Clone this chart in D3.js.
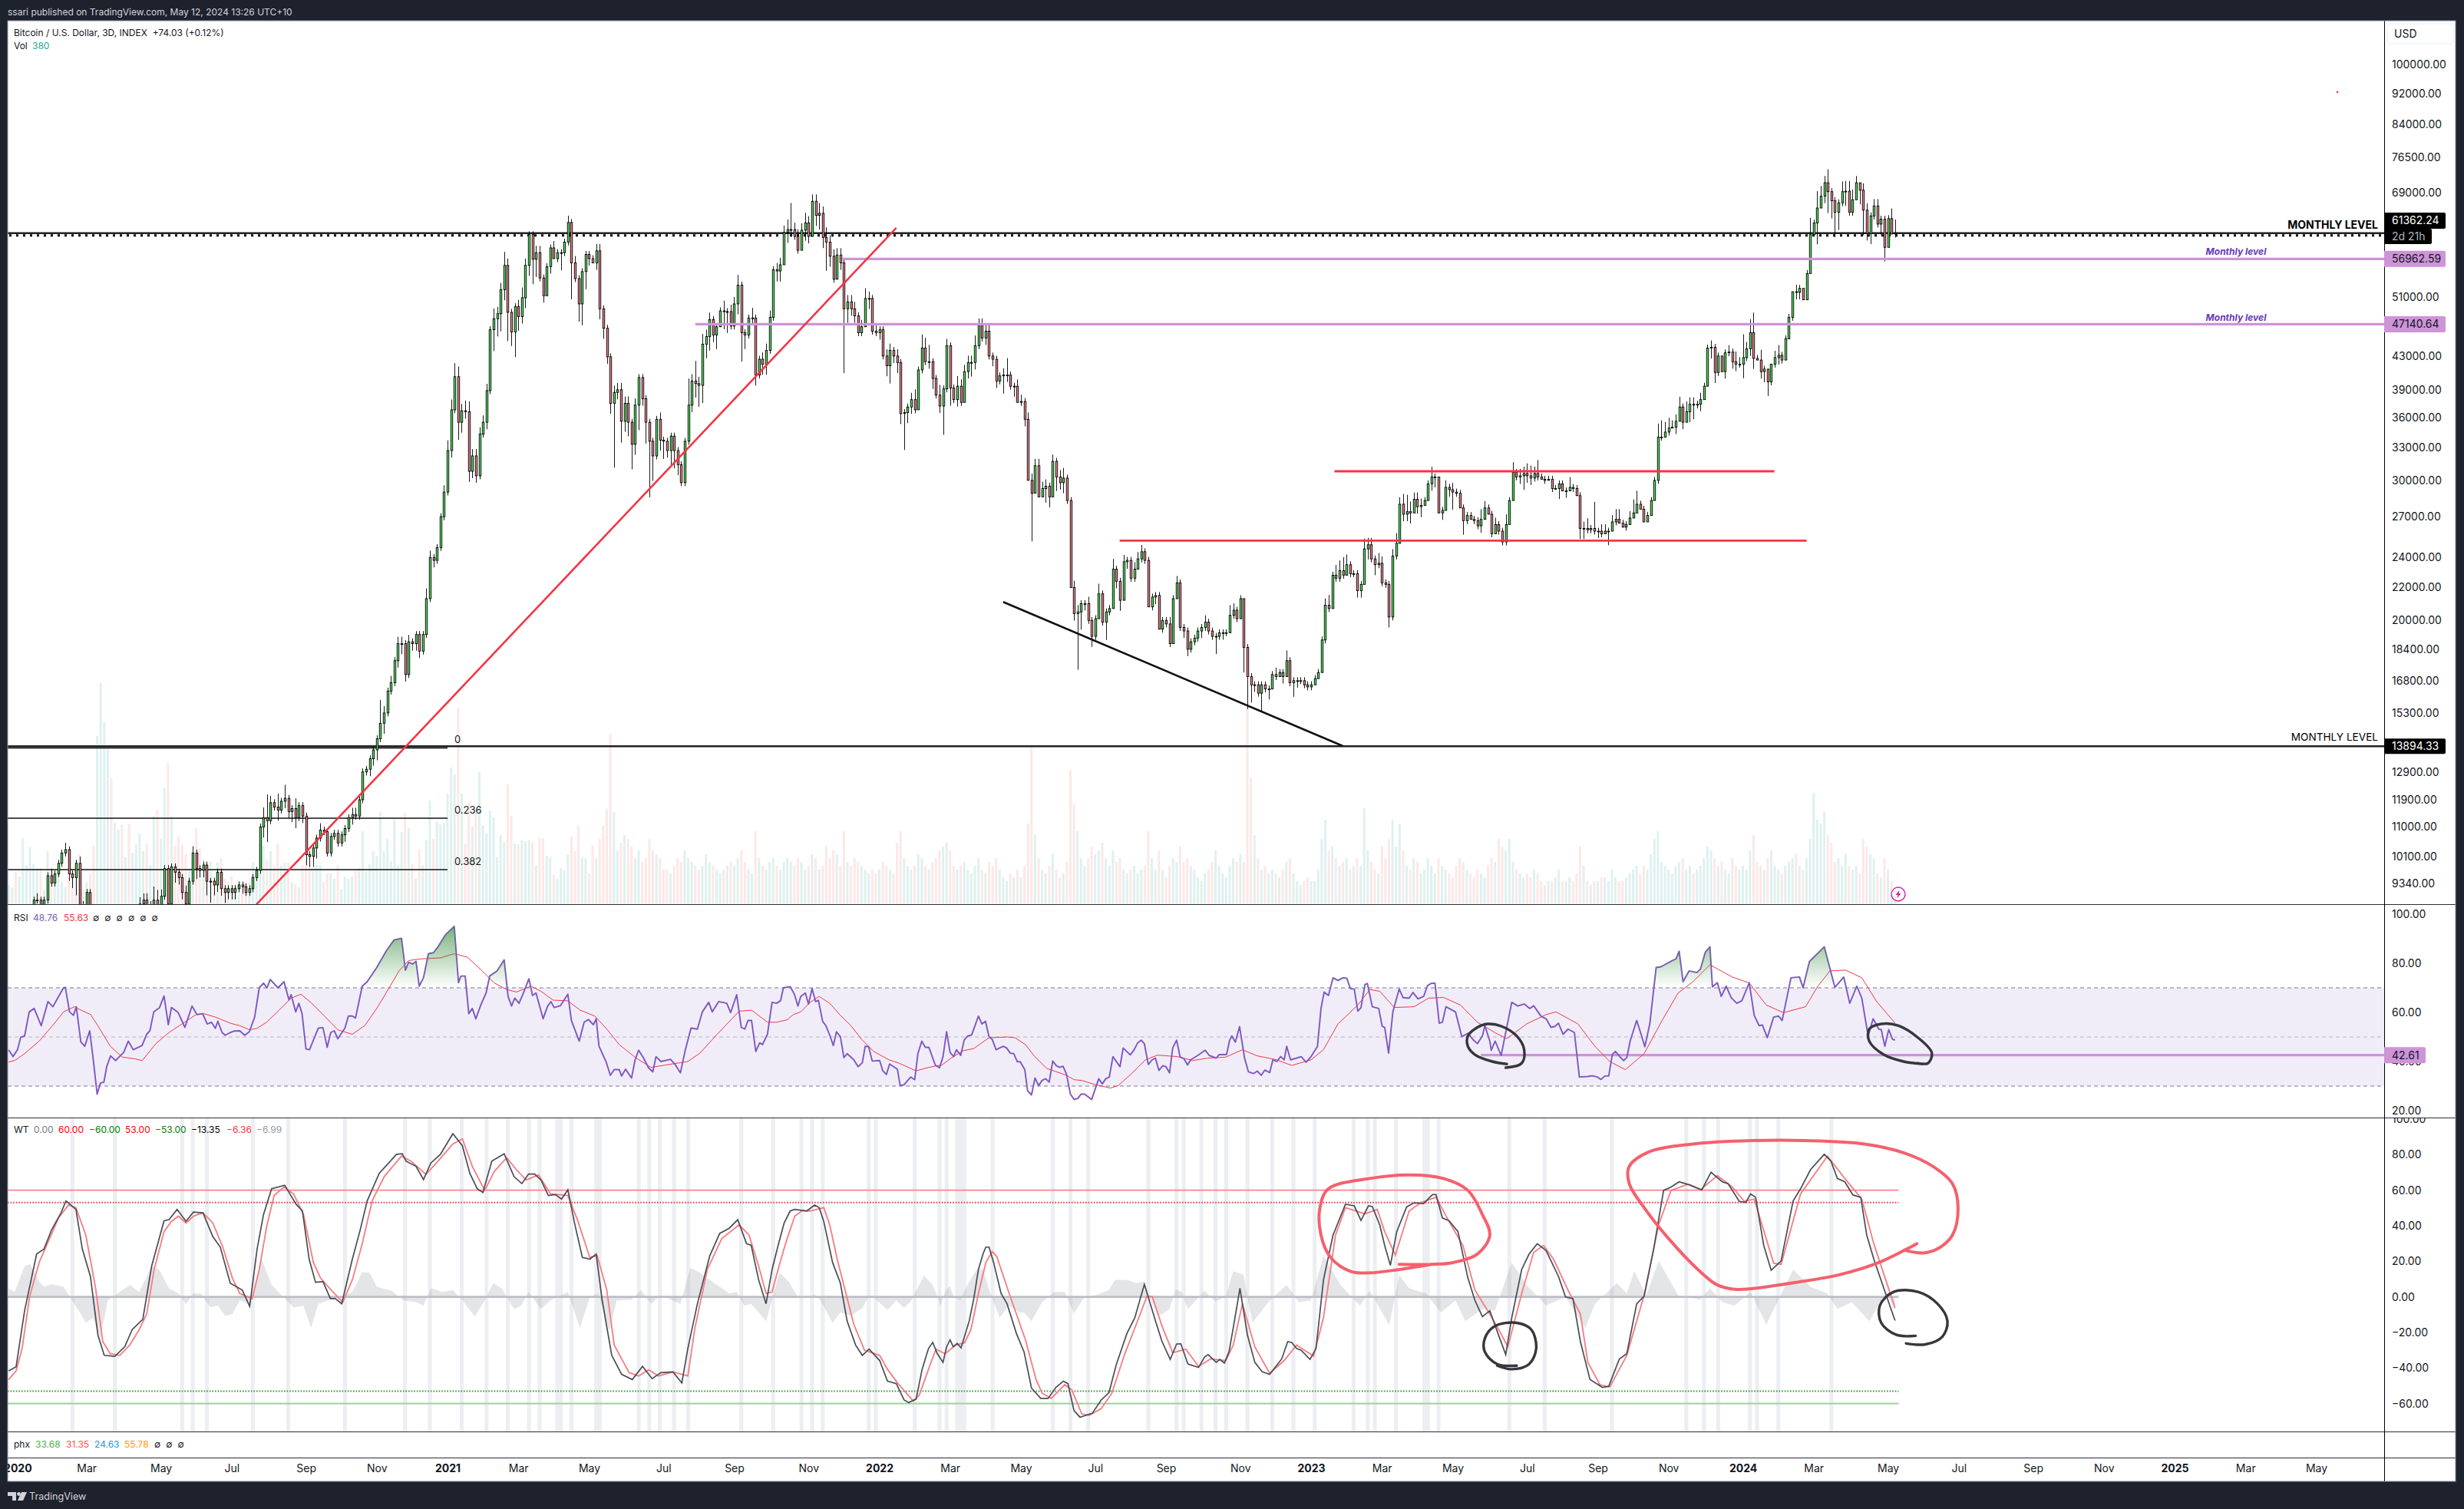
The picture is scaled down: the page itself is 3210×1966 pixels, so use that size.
<!DOCTYPE html>
<html><head><meta charset="utf-8">
<style>
html,body{margin:0;padding:0;background:#1e222d;}
svg{display:block;font-family:Inter,Roboto,sans-serif;}
text{white-space:pre;}
</style>
<script src="https://cdn.jsdelivr.net/npm/d3@7/dist/d3.min.js"></script>
</head><body><svg id="c" width="3210" height="1966"></svg>
<script>
// ---------- price data: closes in thousands of USD, one per 3-day bar ----------
const closes=[
7.2,7.3,7.2,7.4,8.0,8.1,8.7,8.9,8.9,8.6,
8.9,9.55,9.35,9.6,9.9,10.2,10.3,9.6,9.5,9.9,
8.7,8.5,9.1,7.9,5.0,5.3,6.2,6.5,6.7,6.4,
6.8,7.2,6.9,7.2,7.0,7.5,7.6,8.8,8.9,8.6,
8.7,8.9,8.6,9.0,9.75,8.8,9.8,9.65,9.5,9.1,
8.8,9.4,10.2,9.75,9.7,9.85,9.4,9.4,9.3,9.65,
9.2,9.1,9.2,9.1,9.2,9.3,9.25,9.1,9.2,9.5,
9.7,11.0,11.3,11.2,11.8,11.65,11.55,11.85,11.95,11.5,
11.6,11.3,11.7,11.35,10.15,10.1,10.35,10.65,10.9,10.85,
10.2,10.7,10.8,10.5,10.75,10.95,11.3,11.4,11.35,11.9,
12.9,13.0,13.4,13.75,14.2,14.85,15.3,16.3,16.7,17.8,
18.7,18.7,17.1,18.8,18.7,19.2,18.3,19.2,21.3,24.0,
23.8,24.7,27.0,29.0,32.7,36.8,40.5,35.5,36.7,36.6,
30.8,32.2,30.4,34.3,35.5,38.9,46.4,47.9,48.6,52.1,
55.9,48.8,46.1,49.6,48.2,50.9,55.9,61.1,56.9,58.0,
53.9,51.2,55.7,58.8,57.0,58.0,58.0,59.8,63.3,56.3,
53.8,50.0,54.9,57.7,57.0,56.3,58.3,49.3,46.6,42.9,
37.5,38.7,39.0,35.6,37.5,35.5,33.3,37.3,40.4,38.0,
35.5,33.6,32.2,35.8,33.7,33.6,32.7,34.1,32.7,31.4,
29.8,33.6,37.3,40.0,39.7,39.5,44.5,45.5,47.8,45.7,
46.8,49.0,48.9,48.9,46.9,50.0,52.8,46.0,45.7,48.0,
48.0,40.7,42.6,42.0,43.7,48.1,55.2,55.0,56.0,61.5,
62.0,62.0,60.8,58.4,61.9,63.2,60.8,67.3,64.6,65.0,
60.6,59.8,57.4,53.7,57.6,56.3,49.3,50.3,49.3,48.3,
46.0,46.8,50.8,50.8,46.2,46.0,46.4,43.0,41.8,43.7,
43.0,42.2,36.4,36.5,37.1,37.9,36.8,41.3,44.0,42.3,
42.3,40.3,38.4,37.2,39.1,44.3,39.2,37.9,39.4,37.6,
41.1,42.2,42.2,44.3,47.0,45.3,46.2,43.0,42.6,40.0,
40.6,40.7,40.7,39.4,39.4,37.6,37.7,35.8,30.0,28.9,
31.3,28.6,29.3,29.5,28.6,31.7,30.3,29.8,30.2,28.3,
22.0,20.4,20.5,21.0,21.0,20.0,19.1,20.1,21.6,19.9,
20.5,20.7,23.2,22.4,21.2,23.7,23.8,22.6,23.2,23.9,
24.4,23.8,20.8,21.4,21.5,19.5,20.0,19.8,18.7,21.3,
22.3,19.6,19.4,18.4,18.8,19.0,19.4,19.6,19.9,19.4,
19.1,19.1,19.3,19.3,19.3,20.3,20.6,20.1,21.3,18.5,
17.0,16.6,16.6,16.2,16.6,16.4,16.4,17.1,17.0,17.2,
17.0,17.8,16.7,16.8,16.8,16.8,16.6,16.5,16.6,16.9,
17.2,18.9,20.9,20.7,22.8,22.6,23.1,22.8,23.5,22.9,
22.9,21.8,22.2,24.6,24.9,23.9,23.5,23.6,22.3,22.2,
20.2,24.1,25.0,28.0,27.2,27.4,27.3,28.4,27.8,27.9,
28.3,29.7,30.3,30.3,27.3,27.5,29.4,29.2,29.0,28.9,
27.7,26.7,27.1,26.8,26.7,26.3,26.8,27.7,27.2,25.7,
26.4,25.9,25.1,26.4,28.3,30.7,30.3,30.4,30.6,30.4,
30.2,30.6,30.3,30.1,30.0,30.1,29.3,29.3,29.7,29.1,
29.1,29.4,29.3,28.7,26.1,26.1,26.0,26.1,25.9,25.9,
25.7,25.9,25.9,26.6,26.8,26.5,26.2,26.4,26.9,27.3,
28.0,27.6,26.6,27.1,28.3,30.0,34.0,34.0,34.5,34.9,
35.0,35.6,37.1,35.5,36.6,37.4,37.3,37.4,37.9,39.4,
44.0,44.1,41.0,43.0,41.1,43.4,43.5,42.3,42.0,42.0,
42.8,43.9,46.0,42.7,42.5,41.1,41.4,39.9,42.0,42.8,
43.1,42.5,45.2,48.1,51.8,51.7,52.3,50.6,54.6,61.1,
63.2,66.0,68.3,71.0,69.2,67.4,65.2,67.0,69.2,69.3,
65.2,67.6,71.0,69.5,65.6,61.3,64.5,66.4,63.0,63.9,
58.9,64.0,61.2,61.36];
// upper / lower wick length of each bar, percent of price beyond the body
const wickUp=[
1,1,1,1,1,1,1,1,2,1, 1,1,2,1,1,1,2,1,1,1, 2,2,1,1,4,3,3,2,2,2, 1,2,2,2,1,1,2,2,2,2,
2,4,3,2,1,1,1,1,1,1, 2,1,2,1,1,1,1,1,1,1, 1,1,1,1,1,1,1,1,1,1, 1,1,3,7,2,1,4,1,4,1,
1,3,1,1,1,1,1,1,2,1, 1,1,1,1,1,1,1,2,2,1, 1,1,1,1,1,7,2,1,2,1, 2,2,1,2,1,1,1,1,3,2,
1,1,1,2,3,3,4,3,2,3, 3,2,2,2,2,2,1,3,2,2, 4,2,1,1,2,3,2,1,1,2, 2,1,1,1,2,1,1,1,2,1,
2,1,1,1,1,1,2,2,1,1, 1,2,2,2,2,2,1,2,1,1, 1,1,1,1,2,1,1,1,1,1, 1,1,8,2,6,2,3,2,2,1,
1,1,3,1,2,2,3,1,1,1, 3,1,1,2,2,2,1,2,2,2, 3,8,2,2,2,3,2,2,2,3, 2,3,2,2,2,2,1,2,2,2,
1,2,3,2,1,2,1,1,2,2, 1,2,1,1,1,2,3,1,4,3, 5,1,1,3,1,2,1,1,3,2, 2,2,2,3,2,2,2,2,1,1,
1,2,5,1,1,2,2,1,2,2, 2,2,2,2,1,2,1,2,3,1, 1,2,2,1,1,2,1,1,3,1, 1,1,3,1,1,2,1,1,2,2,
2,1,1,1,1,1,1,1,2,1, 2,1,1,1,1,1,1,1,2,1, 1,1,1,1,1,3,2,1,1,0, 1,1,1,1,1,1,1,1,2,1,
1,3,1,1,1,1,1,1,1,1, 1,1,2,3,1,3,3,4,3,1, 1,1,1,3,2,2,1,3,2,1, 1,2,3,2,3,5,3,2,2,2,
1,1,3,1,0,1,2,1,2,1, 1,1,1,1,1,1,3,2,1,1, 2,1,1,3,1,3,1,2,2,3, 3,2,4,1,1,1,1,1,1,1,
1,3,1,1,1,2,3,1,8,1, 2,2,1,2,3,3,1,1,2,4, 4,1,1,1,1,1,4,5,3,3, 2,2,3,1,3,2,2,1,2,1,
1,2,1,1,0,1,2,1,3,2, 7,2,4,6,1,3,1,0,0,2, 3,1,1,1,0,2,1,0,1,5, 1,5,3,2,4,1,1,1,3,3,
3,3,2,0,2,2,1,2,2,1, 1,1,3,4];
const wickDown=[
1,1,1,1,1,1,1,1,1,1, 1,1,1,1,1,1,1,2,3,5, 1,3,2,2,5,4,3,3,2,3, 2,2,2,2,2,2,2,2,2,2,
3,2,3,2,1,1,1,3,2,2, 3,2,1,3,2,2,4,6,3,2, 2,3,2,2,2,1,2,1,1,1, 1,1,3,6,1,1,3,1,2,2,
3,3,1,2,3,3,3,3,1,1, 1,1,1,1,1,2,1,2,1,1, 1,1,2,2,3,1,3,1,1,1, 2,3,2,1,2,2,2,1,1,1,
2,1,1,1,1,2,1,5,3,2, 3,2,2,1,1,2,1,6,5,5, 3,8,4,7,4,2,3,3,7,5, 1,2,0,2,0,1,5,1,1,10,
1,5,6,5,2,0,2,3,3,2, 3,17,2,6,3,4,7,3,7,2, 6,15,7,1,3,5,2,4,5,3, 1,1,1,2,4,6,5,4,4,2,
4,0,5,6,1,1,3,8,4,1, 2,3,1,3,3,1,1,3,3,0, 3,2,1,1,0,3,2,0,3,4, 3,8,3,1,0,2,17,4,2,2,
1,1,0,3,1,1,2,1,3,5, 2,3,3,10,3,2,1,0,1,1, 2,3,1,2,8,1,5,1,2,1, 0,2,4,2,1,1,2,1,2,2,
1,5,2,1,3,0,1,2,0,13, 0,0,0,4,3,0,4,2,3,1, 0,2,15,5,2,1,3,1,0,1, 5,1,0,2,3,0,2,1,1,0,
1,1,0,1,2,0,1,1,1,0, 0,1,2,2,1,1,1,2,1,1, 1,5,1,2,1,0,1,1,0,7, 9,5,2,1,5,1,3,0,1,0,
2,0,1,4,2,1,1,1,1,0, 0,0,1,1,0,1,1,1,0,1, 1,2,2,0,3,1,3,1,1,1, 3,1,1,0,2,2,3,0,2,3,
0,0,2,3,0,2,0,2,5,1, 0,4,1,0,1,1,2,0,0,1, 0,1,1,1,0,0,1,2,4,2, 2,1,1,0,1,0,1,0,3,0,
2,0,1,0,3,3,1,1,1,2, 1,0,4,0,1,0,0,1,0,0, 0,0,0,0,0,0,1,1,0,1, 0,2,0,2,0,3,4,1,2,0,
0,3,3,1,0,2,1,2,2,1, 4,1,2,3,0,2,3,4,1,1, 2,1,0,0,1,2,2,0,0,0, 0,6,0,2,6,5,7,5,1,4,
1,1,0,4,7,2,3,1,1,3, 4,0,0,1];
// volume, in the chart's own arbitrary scale
const volumes=[
25,22,42,36,86,51,74,52,47,47, 19,69,47,26,33,29,22,36,42,58, 65,19,29,40,76,219,288,237,203,165,
106,97,103,61,104,67,78,92,69,79, 51,115,123,85,152,184,115,76,88,78, 65,47,58,99,72,58,47,56,36,54,
60,33,29,36,26,24,19,29,29,54, 44,79,76,58,69,51,79,51,54,54, 29,26,22,51,58,51,47,51,51,29,
40,40,33,51,20,36,33,36,44,47, 95,42,52,69,63,120,69,85,56,110, 51,94,119,99,52,33,72,51,83,135,
85,108,104,106,144,178,169,256,144,79, 133,101,122,172,103,92,122,113,61,90, 81,156,115,79,78,83,82,83,81,51,
86,86,63,61,38,33,47,44,65,88, 69,103,61,60,40,76,60,85,103,124, 222,
120,70,80,90,85,75,60,70,55,60, 85,70,65,60,45,45,40,50,60,55, 70,60,55,50,45,50,65,55,50,45,
40,45,50,55,50,60,70,55,45,40, 95,60,50,45,55,60,50,45,55,60, 55,50,60,55,45,50,65,60,45,50,
75,60,70,65,50,95,55,50,60,55, 50,45,40,45,40,45,55,50,45,40, 80,95,60,50,45,50,65,60,50,45,
55,60,70,75,80,70,50,45,50,55, 45,40,50,60,45,40,55,50,60,45, 35,30,40,35,45,35,50,105,205,90,
60,45,40,50,65,45,35,40,55,175, 130,95,60,50,60,75,65,70,80,60, 50,70,55,60,45,40,45,50,40,45,
50,95,60,45,70,45,35,50,60,55, 75,55,60,50,45,35,30,40,45,55, 70,50,40,35,50,60,55,65,55,255,
165,90,60,45,50,40,45,40,35,45, 55,60,40,30,25,30,35,30,30,45, 85,110,70,75,60,50,55,60,45,50,
60,50,125,70,55,45,40,75,60,85, 110,75,105,70,50,45,60,55,40,45, 60,50,40,60,50,45,40,35,50,60,
55,45,40,35,45,40,35,50,60,55, 85,75,70,85,55,45,40,35,40,35, 45,40,30,25,30,30,35,45,30,30,
35,30,40,75,50,30,25,30,30,35, 35,30,45,35,30,30,35,40,45,50, 40,50,45,65,85,95,55,50,45,40,
50,55,60,45,50,40,45,50,60,75, 70,60,50,55,45,40,60,50,45,50, 45,70,90,55,50,45,60,70,50,45,
40,50,55,60,65,50,45,60,85,145, 110,105,120,90,80,55,60,50,65,50, 45,50,40,85,75,65,60,40,35,60,
45,30,8];
// ---------- RSI [bar, value] ----------
const rsi=[[0,44.8],[1.2,42],[2.5,44.8],[3.4,49.9],[4.5,50.4],[5.8,60.2],[7.2,61.6],[9.2,54.6],[11.1,64.4],[12.5,62.3],[14.1,66.5],[15.5,70],[16,70.2],[17.2,60.2],[18.3,58.8],[19.1,62.3],[20.4,47.9],[21.5,46.2],[22.9,52.5],[23.8,42],[25,26.7],[25.9,31.2],[26.9,31.6],[27.7,37.9],[28.8,42.3],[30.2,40.4],[31.3,42],[32.5,43.7],[33.8,48.3],[35.2,44.8],[37.7,46.5],[39,51.1],[39.9,52.5],[41,60.2],[42.6,61.9],[43.9,66.7],[45.1,55],[46,62],[47.9,59.9],[49.8,53.9],[51.8,62.6],[53.2,59.1],[54.8,59.5],[56.1,55.3],[57.3,56],[58.4,53.5],[59.1,56.4],[60.3,51.8],[61.2,50.7],[62.6,51.8],[63.7,52.4],[65.3,52.5],[66.7,50.7],[68,52.1],[69.5,58.1],[70.8,70],[72,71.9],[73,70],[73.9,73.4],[76.1,70],[77.8,72.5],[79.2,65.1],[79.8,67.2],[81.1,60.2],[82,63.7],[82.9,59.5],[84,45.1],[85,44.8],[87.5,53.6],[88.8,53.8],[90,45.8],[91,51.8],[92,52.5],[93,49.3],[95,53.6],[96,58.5],[97.1,58.5],[98,57.7],[99.9,70.7],[101.3,72.5],[104,78.3],[106.8,85.3],[108.9,89.5],[111,90.2],[112.1,77.2],[113,80.4],[114.1,79.7],[115.1,80.8],[116,70.7],[117.2,74.1],[118.6,83.9],[120,84.3],[121.3,86.7],[123.4,91.6],[125.9,95],[127.1,72.1],[127.8,74.8],[129,74.8],[130,59.5],[131,61.6],[132,57.4],[133.4,63],[134.9,67.9],[135.9,74.8],[138,76.9],[140,81.4],[141.1,66.5],[142.1,62.6],[143,65.8],[144.2,63.7],[145.3,67.4],[147,73.7],[148,66.9],[149,67.9],[151,57.4],[152.2,62.3],[153.2,64.4],[154.1,62],[155.9,62.7],[158,67.4],[159,56.7],[161.2,48.3],[162.6,56],[163.8,57.1],[165.2,55],[166,57.4],[166.8,46.2],[168.8,39.9],[170,34.4],[171.1,36.7],[172.5,36.7],[173.2,34.1],[174.3,36.9],[176,33.3],[177,40.7],[178,44.6],[179.4,41.4],[180.8,37.4],[182,35.8],[182.9,42],[184.3,40],[187,40.9],[188.4,38.6],[189.8,35.4],[191.2,44.8],[192.8,53.6],[194.6,53.2],[196,60.2],[197.8,64.1],[198.8,60.2],[200.6,64.4],[202.9,63.7],[204,59.9],[205.7,67.2],[207,53.9],[208,53.2],[208.9,56.7],[209.9,56.7],[211.1,44.1],[212.2,47.6],[213,46.9],[214.4,51.1],[215.7,64.1],[217,63.7],[218.1,64.8],[218.9,70],[220.8,70.5],[222,67.4],[223,62.6],[223.8,66.5],[225.1,67.9],[226,63.4],[227,69.7],[228,64.4],[228.8,64.9],[230,56.3],[230.9,54.6],[232,50.7],[233,46.5],[233.9,52.1],[235,50.1],[236,41.6],[236.9,43.2],[238.8,40.7],[240,37.9],[241.2,39.5],[242,46.2],[243,46],[244,40.2],[246.1,40.4],[247,36.2],[248,34.7],[248.9,39],[251.1,36.9],[251.9,30.2],[253,30.6],[254.9,33.7],[256,32.6],[256.9,43.2],[258,48.3],[259,45.8],[260,45.8],[261.8,38.6],[263,37.4],[264,42],[265,52.1],[266,43.7],[267,42],[267.8,44.8],[269,42.5],[270,48.8],[271,50.4],[272.1,50.8],[274,58.5],[275,55.3],[276,56.4],[277,50.1],[277.9,49],[279,44.8],[281,46.2],[282,45.5],[283,43.4],[284,43.2],[285,39.9],[285.8,39.9],[287.1,36.7],[287.9,28.1],[289,26.4],[290,33.3],[291,30.2],[292,32.3],[293,33],[294,31.6],[295,40.2],[296,38.3],[297,37.6],[297.9,38.1],[298.9,34.8],[300,26.7],[301,24.6],[302,24.9],[303,26.7],[304,26.7],[306,24.5],[307,28.8],[308,33],[309,30.9],[310,33],[311,33.7],[312,42],[314,37.9],[314.9,45.5],[316.9,42.7],[318,44.8],[319,47.6],[320,48.7],[320.9,47.2],[322,38.8],[323.1,40.7],[324,41.4],[325,36.4],[326.1,38.3],[327,37.9],[328,35.4],[328.9,45.5],[330,48.7],[331,41.8],[332.1,41.1],[333.1,38.6],[334,40.7],[336,42.5],[338.1,44.6],[339.2,42.5],[341.2,41.4],[342,42.8],[344.1,42.8],[345,48.7],[345.6,50.4],[346.6,47.9],[347.8,54.2],[349.2,41.4],[350.3,35.8],[351.7,35.1],[352.8,36.1],[353.9,34.4],[354.9,36.5],[356.3,35.5],[357.2,40.7],[358.3,40],[359.4,42],[360.4,40.7],[361.1,46.2],[362.2,40.7],[363.9,41.4],[365.2,42],[366.6,39.7],[368,42],[369.8,46.2],[370.8,61.6],[371.7,68.3],[372.9,66.9],[374.2,74.1],[375.6,73],[377,74.1],[378.1,73.9],[379.1,69.7],[380.2,69.5],[381.2,60.5],[382.1,61.9],[383.2,71.3],[383.9,71.8],[385.3,62.3],[387.1,61.6],[388.1,54.3],[388.8,53.9],[389.9,43.4],[391.1,60.2],[392.9,69.5],[394,66],[395.7,65.8],[396.8,68.1],[398.2,65.5],[399.8,66.5],[400.9,70.9],[401.9,71.8],[403,71.9],[404.2,55.6],[405.1,56],[406.1,62.3],[408.8,60.2],[410.6,50.1],[412.3,51.5],[413.7,49],[415,47.3],[416.4,50.4],[417.1,54.6],[418.5,48.3],[418.9,44.6],[420,48.3],[421.7,42.5],[424.7,64.1],[426.4,62.6],[428.2,63.4],[429.8,61.6],[430.9,62.7],[433,58.4],[434.4,57.4],[435.8,53.9],[436.9,54.3],[437.9,55.6],[439.2,51.1],[440.6,53.2],[442.4,51.8],[443.8,33.7],[446.2,33.9],[447.5,34.2],[448.9,33.7],[449.9,32.7],[451,34.1],[452.1,34.1],[453.1,42.8],[454,44.1],[455.2,42],[456.3,40.4],[457.2,41.6],[458.2,48.6],[460,56.7],[461.4,50.4],[462.3,46],[463.7,55.3],[465.5,78.3],[466.9,78.6],[469.7,80.8],[471.1,81.8],[472,84.9],[473.1,72.5],[474.8,76.9],[477,76.2],[478,77.6],[479.4,84.6],[480.7,86.7],[481.4,70.4],[482.8,72.1],[483.9,66.5],[485.3,70.7],[486.7,66],[488.3,63.7],[489.7,64.7],[491.8,72.1],[493.2,58.8],[494.6,54.6],[495.5,54.9],[496.9,49.7],[498.7,58.1],[500.1,58.5],[501.1,56.7],[503.6,74.1],[506,74.4],[507,70],[508.8,80.7],[513,86.7],[516,70.2],[518.5,74.4],[520.2,63.7],[522.2,70.7],[523.6,65.8],[525.4,50.4],[526.8,57.4],[528.4,53.2],[529.1,53],[530.1,46.2],[531.2,53],[532.3,49],[533,48.76]];
const rsiMa=[[0,39.8],[1.7,40.4],[4.5,43.2],[8.6,48.3],[12.8,55.3],[15.5,60.2],[18.6,62.3],[21,60.5],[23.1,59.2],[25.2,54.6],[28.7,46.2],[32.1,41.8],[35.6,41.1],[37.7,40.4],[41.8,47.6],[45.3,51.8],[49.4,55.7],[52.9,59.1],[55,59.5],[58.4,58.1],[62.6,55.6],[65.3,54.6],[68.1,52.9],[70.2,53.5],[72.9,56],[76.4,60.9],[79.8,65.8],[82.6,67.4],[85.4,64],[89.5,58.1],[93,52.9],[97.1,51.1],[100.6,54.6],[104,61.6],[107.5,70],[110.3,76.9],[113,81.1],[116.5,81.8],[122,82.2],[125.9,83.9],[129.6,82.5],[133.8,76.9],[137.2,72],[140.7,69.3],[143.5,68.3],[147.6,70.7],[150.4,68.6],[153.8,65],[158,64.7],[161.5,60.9],[165.6,58.5],[169,53.2],[172.5,46.9],[177.3,41.4],[181.5,37.6],[185.7,38.6],[191.9,40],[195.3,43.4],[200.2,51.1],[206.4,60.5],[209.9,60.9],[214.4,56],[217,56],[220,57],[221.7,59.1],[223.8,60.2],[226.4,64],[229,66.5],[232,63.7],[235,58.8],[238,54.6],[241,49],[244.4,44.1],[248.7,40.7],[251.3,39.5],[256.4,36.2],[259.9,37.6],[263.7,38.6],[266.3,41.4],[269.7,44.4],[272.7,45.3],[277,49.7],[282.2,50],[284.3,49.7],[287.3,46.9],[289.9,42],[293.3,37.2],[298.9,34.4],[301,32.6],[303.2,32.3],[307,30.6],[311.3,29.2],[313.5,30.2],[317.3,35.1],[321.2,40.7],[324.6,42.6],[330.2,42],[334.5,40.4],[338.8,41.4],[343.9,41.8],[348.6,44.8],[352.8,42.3],[358.3,40.7],[362.5,38.4],[368,40.7],[371.5,44.8],[375.6,55.3],[381.2,63],[384.6,69.3],[387.4,68.6],[391.5,62],[397.1,62.3],[401.2,65.8],[405.4,66.1],[410.2,63],[415,56],[419.9,51.8],[423.3,49.3],[428.9,55.3],[434.4,59.1],[437.2,60.2],[443.4,55.3],[448.2,46.2],[452.4,40],[456.8,36.7],[462.1,43.2],[466.9,56],[471.7,67.9],[475.9,72.5],[480.7,79.4],[487,74.4],[491.8,72],[496.6,63],[501.5,59.9],[507.7,62.3],[511.2,70.7],[514.6,76.9],[519,77.2],[523.6,74.1],[527.8,64.4],[533,55.63]];
// ---------- WT [bar, value] ----------
const wt1=[[0,-41.6],[2.1,-39.3],[4.5,-7.8],[7.9,24.1],[10,27],[12.1,37.6],[14.8,47.3],[16.2,54],[19,49.2],[20.8,27],[23.1,11.5],[25.2,-21.3],[27,-32.9],[30,-33.5],[32.8,-28],[34.9,-18.4],[37.9,-12.6],[40.4,17.3],[43.9,42.8],[45.3,43.4],[47.6,49.2],[50.1,42.5],[52.2,47.7],[54.9,47.3],[57.7,33.8],[59.8,28],[62.6,7.7],[66,3.8],[68.1,-5.3],[70.2,27],[72,46.3],[74.3,60.8],[78,62.8],[81.2,52.1],[83,48.3],[84.9,21.2],[86.7,8.2],[88.8,8.6],[90.9,-1],[92.3,-1],[94.1,-3.9],[97.1,21.2],[99.2,36.7],[101.3,54],[104.7,69.5],[109.6,80.2],[111.2,80.5],[112.3,76.3],[115.1,73.4],[117.2,66],[119.3,75.3],[122,80.2],[125.5,91.8],[128.2,85],[130.3,69.5],[132.4,60.8],[134,58.7],[136.5,76.3],[140,80.5],[142.8,67.6],[145,63.7],[146.9,69.1],[148.6,69.1],[150.4,65.7],[152.5,57],[154.5,57.5],[156.2,55],[158,60.2],[160,40.5],[162.1,22.2],[164.2,21.2],[166,24.1],[167.7,-2],[170.4,-32.9],[173.2,-43.6],[176.2,-46.5],[179.1,-39.1],[181.8,-46],[184.3,-42.6],[187.7,-42.2],[190.2,-48.4],[191.9,-29],[194.6,-3.9],[198.1,23.1],[200.9,35.7],[203.6,38.6],[206,43.4],[208.5,29.9],[209.8,29],[211.9,9.6],[214,-3.9],[215.7,15.4],[217.4,28.9],[219.1,41.5],[220.8,48.3],[222.1,49.2],[225.5,48.3],[227.7,51.6],[229,50.2],[230.3,42.5],[232.8,19.3],[235,7.7],[236.9,-13.6],[239.3,-27.1],[241.2,-32.9],[243.1,-29.4],[246.1,-35.8],[248.3,-47.4],[250.8,-48.8],[253,-58],[254.3,-59.4],[256.4,-57.5],[258.1,-40.7],[259.9,-29],[261.1,-25.6],[262.4,-32],[264,-36.8],[265,-28.1],[266,-24.2],[266.9,-28.1],[268,-26.2],[269.1,-28.7],[271.4,-13.6],[272.7,-1],[274,15.4],[275.3,24.1],[276.1,28],[277,28],[278.3,19.3],[280.4,1.9],[282.1,-3.9],[284.7,-20.4],[286.9,-31],[289,-51.3],[291.6,-57.1],[293.7,-57.1],[295.9,-50.9],[298,-47.4],[299.3,-48.8],[301,-63.9],[302.7,-67.7],[306.2,-65.4],[308.7,-58],[310.9,-53.8],[313,-37.8],[316,-20.4],[318.2,-11.7],[320.9,7.1],[324.2,-14.6],[325.9,-25.2],[328.2,-35.2],[330,-26.5],[331.2,-26.4],[333.2,-37.8],[336.2,-39.7],[337.9,-33.9],[338.9,-32.5],[341.2,-36.8],[342.2,-35.2],[343.5,-37.2],[344.8,-31],[346,-17.5],[347.9,4.8],[350,-21.3],[352.1,-36.8],[354.2,-42.2],[356.3,-43.6],[359.7,-34.9],[361.4,-25.2],[362.5,-25.6],[363.9,-29],[365.2,-30],[367.7,-35.2],[369.4,-29],[371.5,9.6],[374.2,34.7],[377.7,52.1],[380.2,51.2],[382.1,43],[384.2,51.2],[385.3,50.8],[387.4,40.5],[388.8,28.9],[390.4,17.7],[392.2,36.7],[395,50.6],[397.1,52.9],[399.8,52.5],[402.3,57.5],[403.3,57.5],[405.1,44.4],[407,42.8],[409.5,36.7],[412.3,10.6],[414.3,-2],[416.4,-11.1],[418.5,-7.8],[421.3,-23.3],[423,-32.5],[424.7,-11.7],[427.5,15.4],[429.6,24.1],[431.9,29.9],[434.4,26],[437.9,11.5],[439.9,-0.1],[442,-1],[444.1,-25.2],[446.8,-46.5],[450.3,-50.9],[452.1,-50.3],[455.1,-34.9],[457.2,-32],[460,-3.9],[462.1,0.3],[464.8,27],[467.6,59.9],[469.7,61.8],[472,64.7],[475.2,62.8],[478.4,60.2],[481,70.1],[484.2,64.7],[485.8,63.7],[489,53.7],[490.8,53.1],[492.2,57.9],[493.6,56],[495.9,28.9],[498,15],[500.8,20.2],[504.2,54],[506.3,60.8],[509.1,71.5],[513,80.2],[514.9,76.3],[516.7,66.6],[518.8,64.7],[521.1,57.3],[523.3,56],[525,34.7],[527,21.2],[530.5,0.9],[533,-13.35]];
const wt2=[[0,-46.5],[2.1,-41.6],[3.8,-29],[5.9,0],[8.6,19.3],[10.7,28.9],[14.1,44.4],[16.9,51.7],[19,50.2],[21.8,34.7],[24.5,5.7],[26.6,-25.2],[28.7,-32],[31.4,-32.9],[34.2,-27.1],[36.9,-18.4],[39,-9.7],[41.1,15.4],[43.9,36.7],[46,42.5],[48,45.4],[50.1,41.5],[52.2,45.4],[54.9,47.3],[57.7,41.5],[60.5,28],[63.2,10.6],[65.3,1.9],[68.8,-1],[70.8,15.4],[72.9,39.6],[75,57],[77.8,61.8],[80.5,57.9],[83.3,46.3],[86.1,19.3],[88.1,10.6],[91.6,2.8],[94.4,-3],[97.1,9.6],[99.9,29.9],[102.7,54],[106.1,67.6],[111,79.2],[113.7,76.3],[117.9,68.9],[121.3,76.3],[125.5,86],[128.2,88.9],[131,73.4],[134.5,59.9],[137.2,70.5],[140.7,78.2],[143.5,71.5],[146.2,65.7],[149.7,68.6],[153.1,57.9],[158,57],[160.7,43.4],[164.2,22.2],[166.3,23.1],[169,3.8],[171.1,-27.1],[175.3,-42.6],[178,-44.5],[180.8,-41],[183.6,-44.5],[187.7,-42.2],[191.9,-44.5],[193.9,-17.5],[197.4,15.4],[201.5,32.8],[206.4,40.5],[209.2,34.7],[211.9,17.3],[214,1.9],[215.7,2.8],[217.4,15.4],[219.5,29.9],[222.1,45.4],[224.3,48.6],[226.4,48.3],[230.3,50.2],[232,40.5],[234.1,21.2],[236.7,0.9],[238.8,-15.5],[241.8,-30],[246.1,-32.9],[248.3,-40.7],[251.3,-48.8],[255.6,-58.6],[257.3,-55.2],[259.9,-40.7],[262,-29.4],[264.6,-32],[267.6,-27.1],[270.1,-25.8],[271.9,-18.4],[274,1.9],[276.1,19.3],[277.9,25.5],[279.2,22.7],[282.2,4.8],[287.3,-24.2],[290.3,-46.5],[292,-54.2],[294.6,-57.1],[298.4,-49.4],[300.4,-52.3],[303.2,-65.8],[305.3,-66.7],[308.7,-62.9],[311.7,-54.2],[315.2,-32.9],[318.6,-15.5],[321.6,0.3],[323.1,0.3],[325.9,-16.5],[328.9,-31.4],[332.6,-29.4],[336.2,-39.1],[339.6,-34.9],[343.9,-35.8],[346,-27.1],[348.6,-3.9],[352.1,-28.1],[356.3,-43],[360.4,-35.8],[363.9,-27.1],[368.7,-33.3],[371.5,-11.7],[374.9,34.7],[377.7,50.2],[383.2,46.7],[386.7,49.2],[388.8,36.7],[391.8,23.5],[395.7,48.3],[399.1,53.1],[403.3,56],[406.7,43.4],[410.9,28.9],[414.3,3.8],[418.5,-9.7],[421.3,-19.4],[423.6,-28.1],[427.5,1.9],[430.9,25.1],[433.7,28.9],[436.5,21.2],[440.6,3.8],[444.1,-9.7],[446.2,-36.8],[449.6,-49.4],[452.4,-50.7],[457.2,-32.9],[462.1,0.9],[466.2,40.5],[469.7,59.9],[474.5,63.3],[478,60.2],[482.8,68.2],[487,61.8],[490.4,53.7],[493.2,55],[498.7,18.9],[500.8,18.3],[506.3,57.9],[513.9,79.2],[518.8,66.6],[523.6,55],[527,29.9],[533,-6.36]];
const wtHist=[[0,4.8],[1.7,2.8],[4.5,17.3],[6.1,18.3],[8.6,8.6],[10,5.7],[12.1,7.1],[15.5,5.7],[17.6,-1],[20.4,-9.7],[21.8,-14.6],[23.8,-11.7],[25.9,-23.3],[28,-2],[31.4,2.8],[34.2,6.7],[36.9,2.8],[40.4,17.3],[42.5,15.4],[45.3,4.8],[48,1.9],[50.1,-3.9],[52.2,1.9],[54.3,1.9],[57,-5.9],[59.1,-4.9],[61.2,-10.7],[63.2,-9.7],[65.3,-2],[68.1,-3.9],[71.5,21.2],[74.3,6.7],[77.1,0.9],[80.5,-5.9],[83.3,-4.9],[85.4,-17.5],[87.5,-3.9],[93,0],[97.1,2.8],[99.9,13.9],[102,13.5],[104,5.7],[108.2,3.4],[111.6,-2],[115.1,-3],[117.2,-4.9],[119.3,4.8],[122.7,2.8],[125.5,3.8],[128.2,-2],[131.7,-11.1],[134.5,-2],[136.9,7.7],[139.3,4.8],[142.8,-6.8],[144.8,-4.9],[146.9,2.8],[150.4,-6.8],[153.1,-2],[158,2.8],[161.4,-17.5],[164.2,0],[166.6,1.9],[169.7,-19.4],[171.8,-2],[176,-1.6],[178.7,3.8],[181.5,-3.9],[184.3,0.9],[189.8,-3.9],[192.6,16.4],[194.6,14.4],[198.1,9.6],[203.6,1.9],[205.7,2.8],[207.8,-4.9],[209.8,-3.9],[214,-13.6],[217.8,13.5],[220.4,8.6],[223,0],[226,-0.4],[227.7,1.5],[229.4,-2],[232.8,-14.6],[235,-8.8],[238,-10.7],[241.4,-5.9],[243.1,0.9],[244.8,-1],[248.3,-7.4],[250.8,-2],[253,-6.3],[255.1,-2],[258.6,11.9],[261.1,6.7],[263.3,-4.9],[264.6,2.8],[265.9,6.1],[267.1,0],[268.9,-2],[270.6,5.7],[273.6,15.8],[275.3,15.4],[277.4,1.9],[280,-11.7],[282.6,-4.9],[285.6,-8.8],[286.9,-8.8],[289,-13.6],[292,-3],[295.4,2.8],[298.4,2.8],[301,-9.3],[303.6,-1],[307,0.9],[310.9,3.8],[312.6,9.6],[316,9.6],[318.6,7.7],[320.7,8.6],[322.5,-1],[325,-10.7],[328,-6.8],[329.7,4.2],[331.5,2.8],[333.2,-6.8],[337.9,3.4],[340.9,-2.4],[343.9,0],[346,14.4],[348.9,12.5],[351.4,-14.6],[356.3,-2],[361.1,6.7],[364.5,-3],[368,-2],[371.5,23.1],[376.3,6.7],[381.8,-4.9],[384.6,3.4],[390.1,-15.9],[392.9,12.5],[395.7,4.8],[400.5,1.9],[404.7,-8.8],[408.8,-2],[411.6,-13.6],[416.4,-6.8],[419.9,-7.8],[424.7,19.3],[428.9,6.7],[434.4,-4.9],[439.9,0],[445.5,-17.5],[448.2,-3.9],[454.4,7.7],[457.2,1.9],[459.3,14.4],[462.7,0.9],[466.2,20.2],[471.7,0.9],[477.9,-1.6],[480.7,4.8],[484.2,-3],[487.6,-4.9],[492.2,2.8],[496.6,-15.5],[504.2,15.4],[509.1,5.7],[513.9,1.9],[516.7,-6.8],[520.8,-3],[525.7,-13.6],[530.5,2.8],[533,-6.99]];
// bars flagged with a grey background in the WT pane
const wtCross=[18,30,49,52,56,69,79,95,112,119,128,135,141,147,150,155,156,159,166,167,178,181,184,188,192,207,216,224,227,230,243,245,256,263,265,268,269,270,278,295,300,305,322,330,332,337,341,344,350,357,363,369,380,384,386,392,400,401,404,424,434,453,474,479,483,492,494,500,515];
// hand-drawn circles [bar, indicator value]
const rsiCircles=[
[[423.3,39],[419.2,40],[414.3,42.8],[412.3,46.2],[412.3,50.4],[415,53.9],[417.8,55.3],[421.9,54.3],[426.1,50.4],[428.2,44.8],[427.5,39.3],[423,37.5]],
[[540.9,39],[535.4,40],[529.8,42.8],[525.7,48.3],[525.7,53.2],[529.1,55.3],[534,54.6],[539.5,49.7],[543.4,43.5],[542.3,39.3],[539.5,39.3]]];
const wtRedCircles=[
[[392.9,18.3],[401.9,18.3],[408.1,19.3],[415,24.1],[418.5,34.7],[416.4,46.3],[412.3,59.9],[405.4,66.6],[395.7,68.6],[384.6,66.6],[372.9,60.8],[370.5,50.2],[370.8,34.7],[373.5,22.2],[379.1,14.4],[384.6,13.5],[392.9,15.4],[401.9,18.3]],
[[535.4,26],[539.2,29.9],[528.4,19.3],[517.4,12.5],[503.5,7.7],[488.3,4.2],[482.8,6.7],[477.3,15.4],[469,32.8],[462.1,50.2],[457.9,63.7],[457.9,73.4],[463.4,81.5],[475.9,86],[492.5,87.9],[507.7,87.9],[524.3,86],[535.4,81.1],[543.7,73.4],[549.2,63.7],[550.8,50.2],[549.2,34.7],[545,27],[540.9,24.7],[536.1,26]]];
const wtBlackCircles=[
[[426.1,-38.7],[420.6,-37.8],[417.1,-31],[417.1,-23.3],[419.9,-16.5],[426.1,-14.6],[430.2,-18.4],[431.6,-29],[429.6,-37.8],[424.7,-40.7],[420.6,-38.7]],
[[538.8,-21.9],[533.3,-21.3],[529.1,-14.6],[528.7,-4.9],[532.6,2.8],[539.5,2.8],[545,-3.9],[547.8,-13.6],[546.4,-22.3],[541.6,-26.7],[536.1,-26.2]]];
// trend lines [bar, price]
const redTrend=[[70,8790],[250.8,62300]];
const blackTrend=[[281,21100],[377,13900]];
const redLevels=[{from:374.6,to:498.9,p:30800},{from:313.9,to:508,p:25200}];
const monthlyLevels=[{from:235.6,p:56962.59},{from:194,p:47140.64}];
const fibs=[{l:'0',p:13830},{l:'0.236',p:11280},{l:'0.382',p:9720}];
const blackLevels=[61362.24,13894.33];
const dottedLevel=60950;
// tick labels
const priceTicks=[100000,92000,84000,76500,69000,51000,43000,39000,36000,33000,30000,27000,24000,22000,20000,18400,16800,15300,12900,11900,11000,10100,9340];
const rsiTicks=[100,80,60,40,20];
const wtTicks=[100,80,60,40,20,0,-20,-40,-60];
const timeBars=[2.5,22,43,63,84,104,124,144,164,185,205,226,246,266,286,307,327,348,368,388,408,429,449,469,490,510,531,551,572,592,612,632,652];
const timeLabels=['2020','Mar','May','Jul','Sep','Nov','2021','Mar','May','Jul','Sep','Nov','2022','Mar','May','Jul','Sep','Nov','2023','Mar','May','Jul','Sep','Nov','2024','Mar','May','Jul','Sep','Nov','2025','Mar','May'];

// ---------- layout ----------
const L=10,R=3106,RR=3199,T=27,B1=1178,B2=1456,B3=1865,B4=1899,B5=1930;
const svg=d3.select('#c');
const INK='#131722';
const DAY=864e5,start=Date.UTC(2019,11,25);
const barDate=i=>new Date(start+i*3*DAY);
const x=d3.scaleUtc().domain([barDate(0),barDate(671.2)]).range([11.3,R]);
const bx=i=>x(barDate(i));
const y=d3.scaleLog().domain([100000,9340]).range([84,1151]);
const yVol=d3.scaleLinear().domain([0,300]).range([B1,B1-300]);
const yR=d3.scaleLinear().domain([100,20]).range([1191,1447]);
const yW=d3.scaleLinear().domain([100,-60]).range([1458,1828.6]);

svg.append('rect').attr('width',3210).attr('height',1966).attr('fill','#1e222d');
svg.append('rect').attr('x',L).attr('y',T).attr('width',RR-L).attr('height',B5-T).attr('fill','#fff');
const defs=svg.append('defs');
function clip(id,x0,y0,x1,y1){defs.append('clipPath').attr('id',id).append('rect').attr('x',x0).attr('y',y0).attr('width',x1-x0).attr('height',y1-y0);}
clip('cMain',L,T,R,B1);clip('cRsi',L,B1,R,B2);clip('cWt',L,B2,R,B3);
clip('cOver',L,T,R,yR(70));clip('cUnder',L,yR(30),R,B2);clip('cWtAxis',R,B2,RR,B3);clip('cTime',L,B4,R,B5);
const gUp=defs.append('linearGradient').attr('id','gUp').attr('gradientUnits','userSpaceOnUse').attr('x1',0).attr('x2',0).attr('y1',yR(100)).attr('y2',yR(70));
gUp.append('stop').attr('offset',0).attr('stop-color','#388e3c').attr('stop-opacity',.8);
gUp.append('stop').attr('offset',1).attr('stop-color','#388e3c').attr('stop-opacity',0);
const gDn=defs.append('linearGradient').attr('id','gDn').attr('gradientUnits','userSpaceOnUse').attr('x1',0).attr('x2',0).attr('y1',yR(30)).attr('y2',yR(0));
gDn.append('stop').attr('offset',0).attr('stop-color','#f23645').attr('stop-opacity',0);
gDn.append('stop').attr('offset',1).attr('stop-color','#f23645').attr('stop-opacity',.5);

// ---------- main pane ----------
const bars=closes.map((c,i)=>{const o=i?closes[i-1]:c;const top=Math.max(o,c),bot=Math.min(o,c);
  return {i,o:o*1000,c:c*1000,h:top*1000*(1+wickUp[i]/100),l:bot*1000*(1-wickDown[i]/100),v:volumes[i],up:c>=o};});
const main=svg.append('g').attr('clip-path','url(#cMain)');
main.selectAll('.v').data(bars).join('rect').attr('x',d=>bx(d.i)-1.5).attr('width',3)
 .attr('y',d=>yVol(d.v)).attr('height',d=>B1-yVol(d.v)).attr('fill',d=>d.up?'#dff1ef':'#fce8e7');
// black levels and fib
main.selectAll('.bl').data(blackLevels).join('line').attr('x1',L).attr('x2',R).attr('y1',d=>y(d)).attr('y2',d=>y(d)).attr('stroke','#222').attr('stroke-width',2.6);
main.append('line').attr('x1',L+2).attr('x2',R).attr('y1',y(dottedLevel)).attr('y2',y(dottedLevel)).attr('stroke','#000').attr('stroke-width',3).attr('stroke-dasharray','3 6');
main.selectAll('.fl').data(fibs).join('line').attr('x1',L).attr('x2',583).attr('y1',d=>y(d.p)).attr('y2',d=>y(d.p)).attr('stroke','#111').attr('stroke-width',1.6);
main.selectAll('.ft').data(fibs).join('text').attr('x',592).attr('y',d=>y(d.p)-11).attr('dy','.35em').attr('font-size',13).attr('fill',INK).text(d=>d.l);
// candles
const cg=main.append('g');
cg.selectAll('.w').data(bars).join('line').attr('x1',d=>Math.round(bx(d.i))+.5).attr('x2',d=>Math.round(bx(d.i))+.5)
 .attr('y1',d=>y(d.h)).attr('y2',d=>y(d.l)).attr('stroke','#000').attr('stroke-width',.9);
cg.selectAll('.b').data(bars).join('rect').attr('x',d=>Math.round(bx(d.i))-.75).attr('width',2.5)
 .attr('y',d=>Math.min(y(d.o),y(d.c))).attr('height',d=>Math.max(1,Math.abs(y(d.o)-y(d.c))))
 .attr('fill',d=>d.up?'#4be05a':'#f0808a').attr('stroke','#000').attr('stroke-width',.9);
// drawings
const purple='#ce93d8',red='#f23645';
main.selectAll('.ml').data(monthlyLevels).join('line').attr('x1',d=>bx(d.from)).attr('x2',R).attr('y1',d=>y(d.p)).attr('y2',d=>y(d.p)).attr('stroke',purple).attr('stroke-width',3.2);
main.selectAll('.rl').data(redLevels).join('line').attr('x1',d=>bx(d.from)).attr('x2',d=>bx(d.to)).attr('y1',d=>y(d.p)).attr('y2',d=>y(d.p)).attr('stroke',red).attr('stroke-width',2.8);
const ln=d3.line().x(d=>bx(d[0])).y(d=>y(d[1]));
main.append('path').attr('d',ln(redTrend)).attr('fill','none').attr('stroke',red).attr('stroke-width',2.6);
main.append('path').attr('d',ln(blackTrend)).attr('fill','none').attr('stroke','#111').attr('stroke-width',2.6);
main.append('circle').attr('cx',3045).attr('cy',120).attr('r',1.3).attr('fill',red);
// lightning icon
const ic=svg.append('g').attr('transform','translate(2473,1165)');
ic.append('circle').attr('r',9).attr('fill','#fff').attr('stroke','#d5219a').attr('stroke-width',1.4);
ic.append('path').attr('d','M1.5 -5.5 L-3.5 1 L-0.5 1 L-1.5 5.5 L3.5 -1 L0.5 -1 Z').attr('fill','#d5219a');
// text on main
svg.append('text').attr('x',3098).attr('y',293).attr('dy','.35em').attr('text-anchor','end').attr('font-size',14).attr('font-weight',700).attr('fill','#000').text('MONTHLY LEVEL');
svg.append('text').attr('x',3098).attr('y',960).attr('dy','.35em').attr('text-anchor','end').attr('font-size',13.6).attr('font-weight',400).attr('fill','#000').text('MONTHLY LEVEL');
svg.selectAll('.ml2').data(monthlyLevels).join('text').attr('x',2913).attr('y',d=>y(d.p)-9).attr('dy','.35em').attr('text-anchor','middle')
 .attr('font-size',12).attr('font-weight',700).attr('font-style','italic').attr('fill','#673ab7').text('Monthly level');

// ---------- RSI pane ----------
const rsiG=svg.append('g').attr('clip-path','url(#cRsi)');
rsiG.append('rect').attr('x',L).attr('width',R-L).attr('y',yR(70)).attr('height',yR(30)-yR(70)).attr('fill','#f0edf8');
const rl=d3.line().x(d=>bx(d[0])).y(d=>yR(d[1]));
[[70,'#787b86'],[50,'#b5b6be'],[30,'#787b86']].forEach(([v,c])=>rsiG.append('line').attr('x1',L).attr('x2',R).attr('y1',yR(v)).attr('y2',yR(v)).attr('stroke',c).attr('stroke-width',1.2).attr('stroke-dasharray','5 4'));
const ra=d3.area().x(d=>bx(d[0])).y1(d=>yR(d[1]));
svg.append('g').attr('clip-path','url(#cOver)').append('path').attr('d',ra.y0(yR(70))(rsi)).attr('fill','url(#gUp)');
svg.append('g').attr('clip-path','url(#cUnder)').append('path').attr('d',ra.y0(yR(30))(rsi)).attr('fill','url(#gDn)');
rsiG.append('line').attr('x1',bx(416)).attr('x2',R).attr('y1',yR(42.61)).attr('y2',yR(42.61)).attr('stroke',purple).attr('stroke-width',3.2);
rsiG.append('path').attr('d',rl(rsiMa)).attr('fill','none').attr('stroke',red).attr('stroke-width',1);
rsiG.append('path').attr('d',rl(rsi)).attr('fill','none').attr('stroke','#7e57c2').attr('stroke-width',1.9).attr('stroke-linejoin','round');
const rc=d3.line().curve(d3.curveCatmullRom).x(d=>bx(d[0])).y(d=>yR(d[1]));
rsiG.selectAll('.rc').data(rsiCircles).join('path').attr('d',rc).attr('fill','none').attr('stroke','#36363c').attr('stroke-width',3.4).attr('stroke-linecap','round');

// ---------- WT pane ----------
const wtG=svg.append('g').attr('clip-path','url(#cWt)');
wtG.selectAll('.s').data(wtCross).join('rect').attr('x',d=>bx(d)-2.5).attr('width',5.1).attr('y',B2).attr('height',B3-B2).attr('fill','#eceef1');
wtG.append('path').attr('d',d3.area().x(d=>bx(d[0])).y0(yW(0)).y1(d=>yW(d[1]))(wtHist)).attr('fill','#9598a1').attr('fill-opacity',.25);
const endX=bx(534);
wtG.append('line').attr('x1',L).attr('x2',endX).attr('y1',yW(0)).attr('y2',yW(0)).attr('stroke','#bdbfc6').attr('stroke-width',2.6);
wtG.append('line').attr('x1',L).attr('x2',endX).attr('y1',yW(60)).attr('y2',yW(60)).attr('stroke','#f7868c').attr('stroke-width',1.6);
wtG.append('line').attr('x1',L).attr('x2',endX).attr('y1',yW(53)).attr('y2',yW(53)).attr('stroke','#f23645').attr('stroke-width',2).attr('stroke-dasharray','1.6 2');
wtG.append('line').attr('x1',L).attr('x2',endX).attr('y1',yW(-53)).attr('y2',yW(-53)).attr('stroke','#2e9a3c').attr('stroke-width',2).attr('stroke-dasharray','1.6 2');
wtG.append('line').attr('x1',L).attr('x2',endX).attr('y1',yW(-60)).attr('y2',yW(-60)).attr('stroke','#a5d6a7').attr('stroke-width',2.4);
const wl=d3.line().x(d=>bx(d[0])).y(d=>yW(d[1]));
wtG.append('path').attr('d',wl(wt2)).attr('fill','none').attr('stroke','#f77c80').attr('stroke-width',1.8);
wtG.append('path').attr('d',wl(wt1)).attr('fill','none').attr('stroke','#4a4d57').attr('stroke-width',1.7);
const wc=d3.line().curve(d3.curveCatmullRom).x(d=>bx(d[0])).y(d=>yW(d[1]));
wtG.selectAll('.wr').data(wtRedCircles).join('path').attr('d',wc).attr('fill','none').attr('stroke','#f5606e').attr('stroke-width',4).attr('stroke-linecap','round');
wtG.selectAll('.wb').data(wtBlackCircles).join('path').attr('d',wc).attr('fill','none').attr('stroke','#36363c').attr('stroke-width',3.4).attr('stroke-linecap','round');

// ---------- separators ----------
[B1,B2,B3,B4].forEach(v=>svg.append('line').attr('x1',L).attr('x2',RR).attr('y1',v+.5).attr('y2',v+.5).attr('stroke','#2a2e39').attr('stroke-width',1));
svg.append('line').attr('x1',R+.5).attr('x2',R+.5).attr('y1',T).attr('y2',B5).attr('stroke','#000').attr('stroke-width',1);
svg.append('rect').attr('x',L).attr('y',T).attr('width',RR-L).attr('height',B5-T).attr('fill','none').attr('stroke','#8a8e99').attr('stroke-width',1);

// ---------- axes ----------
function styleAxis(g,size){g.select('.domain').remove();g.selectAll('text').attr('font-family','Inter').attr('font-size',size).attr('fill',INK);}
const fmt=d=>d3.format('.2f')(d).replace('-','\u2212');
svg.append('g').attr('transform',`translate(${R},0)`).call(d3.axisRight(y).tickValues(priceTicks).tickFormat(fmt).tickSize(0).tickPadding(10)).call(styleAxis,14);
svg.append('g').attr('transform',`translate(${R},0)`).call(d3.axisRight(yR).tickValues(rsiTicks).tickFormat(fmt).tickSize(0).tickPadding(10)).call(styleAxis,14);
svg.append('g').attr('clip-path','url(#cWtAxis)').append('g').attr('transform',`translate(${R},0)`).call(d3.axisRight(yW).tickValues(wtTicks).tickFormat(fmt).tickSize(0).tickPadding(10)).call(styleAxis,14);
const tg=svg.append('g').attr('clip-path','url(#cTime)').append('g').attr('transform',`translate(0,${B4+6})`)
 .call(d3.axisBottom(x).tickValues(timeBars.map(barDate)).tickFormat((d,i)=>timeLabels[i]).tickSize(0).tickPadding(3)).call(styleAxis,14);
tg.selectAll('text').attr('font-weight',(d,i)=>/^\d/.test(timeLabels[i])?700:400);

// USD box
svg.append('rect').attr('x',3110).attr('y',31).attr('width',86).attr('height',26).attr('rx',4).attr('fill','#fff').attr('stroke','#f0f3fa').attr('stroke-width',1.5);
svg.append('text').attr('x',3119).attr('y',44).attr('dy','.35em').attr('font-size',14).attr('fill',INK).text('USD');

// price tags
function tag(x0,w,yc,h,bg,fg,txt,tx){svg.append('path').attr('d',`M${x0} ${yc-h/2}H${x0+w-2}q2 0 2 2V${yc+h/2-2}q0 2 -2 2H${x0}Z`).attr('fill',bg);
 svg.append('text').attr('x',tx).attr('y',yc).attr('dy','.35em').attr('font-size',14).attr('fill',fg).text(txt);}
tag(R,80,287.5,21,'#000','#fff','61362.24',3116);
tag(R,62,308,20,'#000','#b2b5be','2d 21h',3116);
tag(R,80,y(56962.59),21,purple,INK,'56962.59',3116);
tag(R,80,y(47140.64),21,purple,INK,'47140.64',3116);
tag(R,80,y(13894.33),20,'#000','#fff','13894.33',3116);
tag(R,54,yR(42.61),21,purple,INK,'42.61',3116);

// ---------- legends ----------
function legend(yy,items){items.forEach(([tx,txt,c])=>svg.append('text').attr('x',tx).attr('y',yy).attr('dy','.35em').attr('font-size',12).attr('fill',c).text(txt));}
legend(43,[[18,'Bitcoin / U.S. Dollar, 3D, INDEX  +74.03 (+0.12%)',INK]]);
legend(60,[[18,'Vol',INK],[42,'380','#26a69a']]);
legend(1196,[[18,'RSI',INK],[43,'48.76','#7e57c2'],[83,'55.63','#f23645']].concat(d3.range(6).map(k=>[121+k*15.3,'\u2205',INK])));
legend(1472,[[18,'WT',INK],[44,'0.00','#787b86'],[76,'60.00','#ff0000'],[116,'\u221260.00','#008000'],[163,'53.00','#ff0000'],[202,'\u221253.00','#008000'],[249,'\u221213.35','#000'],[295,'\u22126.36','#f23645'],[334,'\u22126.99','#9598a1']]);
legend(1882,[[18,'phx',INK],[46,'33.68','#4caf50'],[86,'31.35','#ff5252'],[123,'24.63','#2196f3'],[162,'55.78','#ff9800']].concat(d3.range(3).map(k=>[201+k*15.3,'\u2205',INK])));

// ---------- header / footer ----------
svg.append('text').attr('x',10).attr('y',16).attr('dy','.35em').attr('font-size',12).attr('fill','#d1d4dc').text('ssari published on TradingView.com, May 12, 2024 13:26 UTC+10');
svg.append('path').attr('d','M10 1944H21V1955H16V1949H10Z M28 1944H35L30 1955H23Z').attr('fill','#d1d4dc');
svg.append('circle').attr('cx',24.5).attr('cy',1946.5).attr('r',2.4).attr('fill','#d1d4dc');
svg.append('text').attr('x',38).attr('y',1949.5).attr('dy','.35em').attr('font-size',12.6).attr('fill','#d1d4dc').text('TradingView');
</script></body></html>
